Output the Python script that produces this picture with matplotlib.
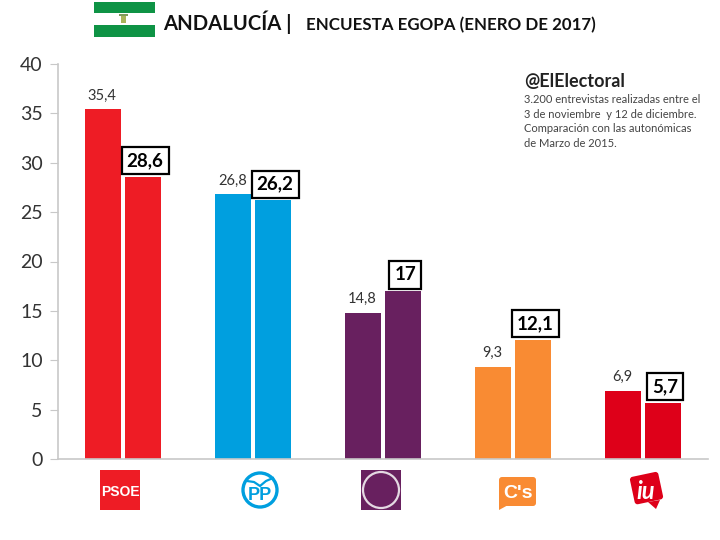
import numpy as np
import matplotlib.pyplot as plt
from matplotlib.patches import Rectangle, Circle, FancyBboxPatch, Polygon
from matplotlib.transforms import Affine2D

parties = ["PSOE", "PP", "Podemos", "C's", "IU"]
marzo_2015 = [35.4, 26.8, 14.8, 9.3, 6.9]
egopa_2017 = [28.6, 26.2, 17, 12.1, 5.7]
colors = ["#EE1C25", "#009FDF", "#68205F", "#F98B33", "#DE0019"]
yticks = [0, 5, 10, 15, 20, 25, 30, 35, 40]

notes = [
    "3.200 entrevistas realizadas entre el",
    "3 de noviembre  y 12 de diciembre.",
    "Comparación con las autonómicas",
    "de Marzo de 2015.",
]

plt.rcParams["font.family"] = ["Lato", "DejaVu Sans"]


def fmt(v):
    return f"{v:g}".replace(".", ",")


fig = plt.figure(figsize=(7.2, 5.4), dpi=100)
ax = fig.add_axes([58 / 720, 81 / 540, 650 / 720, 395 / 540])

x = np.arange(len(parties))
width = 0.28
off = 0.154
ax.bar(x - off, marzo_2015, width, color=colors)
ax.bar(x + off, egopa_2017, width, color=colors)

for i in x:
    ax.annotate(fmt(marzo_2015[i]), (i - off, marzo_2015[i]), xytext=(-0.5, 5),
                textcoords="offset points", ha="center", va="bottom",
                fontsize=10.5, color="#333333")
    ax.annotate(fmt(egopa_2017[i]), (i + off, egopa_2017[i]), xytext=(1.5, 5.5),
                textcoords="offset points", ha="center", va="bottom",
                fontsize=13.5, fontweight="bold", color="black",
                bbox=dict(boxstyle="square,pad=0.27", fc="white", ec="black", lw=1.6))

ax.set_xlim(-0.5, 4.5)
ax.set_ylim(0, 40)
ax.set_yticks(yticks)
ax.set_xticks([])
ax.tick_params(axis="y", labelsize=14, length=6, color="#C8C8C8", labelcolor="#333333", pad=5)
for s in ["top", "right"]:
    ax.spines[s].set_visible(False)
ax.spines["left"].set_color("#C8C8C8")
ax.spines["bottom"].set_color("#C8C8C8")
ax.spines["left"].set_linewidth(1.2)
ax.spines["bottom"].set_linewidth(1.2)

# overlay in pixel coordinates for header and logos
ov = fig.add_axes([0, 0, 1, 1], facecolor="none")
ov.set_xlim(0, 720)
ov.set_ylim(540, 0)
ov.axis("off")

# flag
ov.add_patch(Rectangle((94, 2), 61, 11, color="#0E9345", lw=0))
ov.add_patch(Rectangle((94, 25), 61, 12, color="#0E9345", lw=0))
ov.add_patch(Rectangle((121, 16), 5, 7, color="#A9B45A", lw=0))
ov.add_patch(Rectangle((119, 14), 9, 1.5, color="#7F9A5B", lw=0))

ov.text(163, 30, "ANDALUCÍA |", fontsize=14.6, fontweight="bold", color="#111111", va="baseline")
ov.text(306, 30, "ENCUESTA EGOPA (ENERO DE 2017)", fontsize=12.2, fontweight="bold",
        color="#111111", va="baseline")

ov.text(524, 87, "@ElElectoral", fontsize=13, fontweight="bold", color="#222222", va="baseline")
for i, line in enumerate(notes):
    ov.text(524, 103 + i * 14.7, line, fontsize=8, color="#444444", va="baseline")

# PSOE
ov.add_patch(Rectangle((100, 470), 40, 40, color=colors[0], lw=0))
ov.text(120, 496, "PSOE", color="white", fontsize=10, fontweight="bold", ha="center",
        va="baseline", family="Liberation Sans")

# PP
ov.add_patch(Circle((260, 490), 17, fc="white", ec=colors[1], lw=2.4))
ov.text(260, 500, "PP", color=colors[1], fontsize=13, fontweight="bold", ha="center",
        va="baseline", family="Liberation Sans")
ov.plot([247, 254, 260, 266, 273], [481, 482, 486, 481, 478], color=colors[1], lw=1.6)

# Podemos
ov.add_patch(Rectangle((361, 470), 40, 40, color=colors[2], lw=0))
ov.add_patch(Circle((381, 490), 18, fc="none", ec="#E4D8E2", lw=1.6))

# C's
ov.add_patch(FancyBboxPatch((501, 479), 33, 25, boxstyle="round,pad=2,rounding_size=3",
                            fc=colors[3], ec="none"))
ov.add_patch(Polygon([[499, 500], [499, 510], [510, 504]], closed=True, color=colors[3], lw=0))
ov.text(518, 498, "C's", color="white", fontsize=14, fontweight="bold", ha="center",
        va="baseline", family="Liberation Sans")

# IU
rot = Affine2D().rotate_deg_around(647, 488, -12) + ov.transData
ov.add_patch(FancyBboxPatch((632, 474), 29, 28, boxstyle="round,pad=0,rounding_size=3",
                            fc=colors[4], ec="none", transform=rot))
ov.add_patch(Polygon([[648, 502], [660, 500], [656, 509]], closed=True, color=colors[4], lw=0))
ov.text(646, 499, "iu", color="white", fontsize=17, fontweight="bold", style="italic",
        ha="center", va="baseline")

fig.savefig("out.png", dpi=100)
